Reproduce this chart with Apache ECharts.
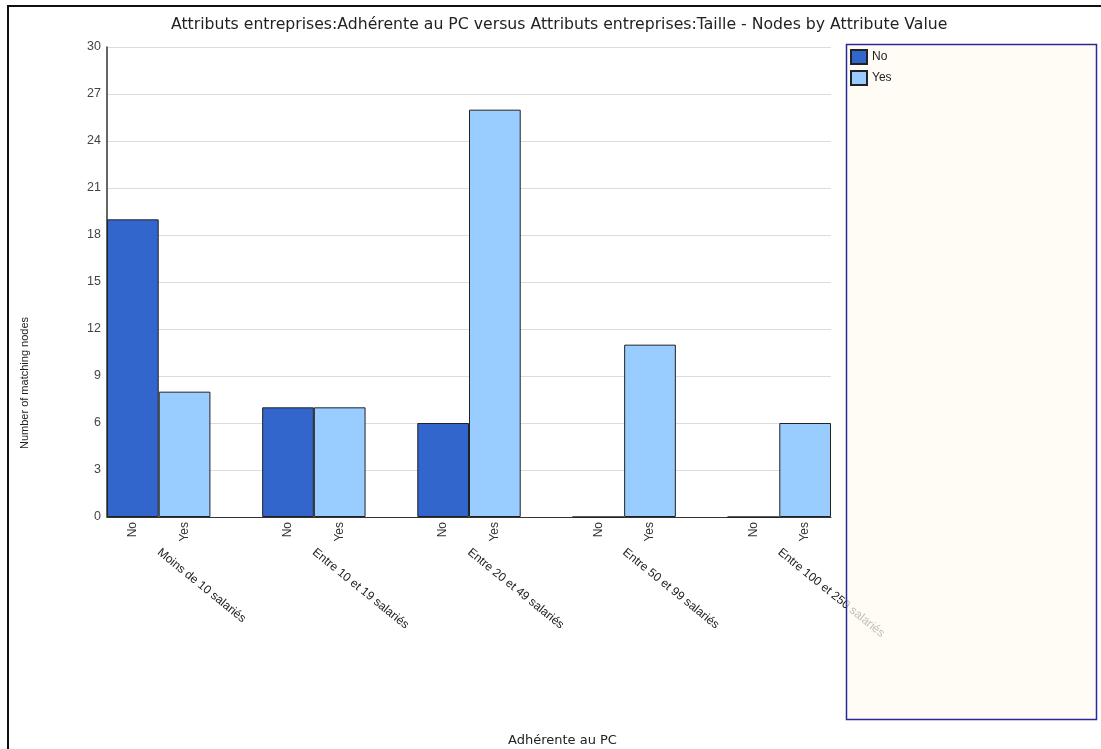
<!DOCTYPE html>
<html>
<head>
<meta charset="utf-8">
<script src="https://cdn.jsdelivr.net/npm/echarts@6/dist/echarts.min.js"></script>
<style>
html,body{margin:0;padding:0;background:#fff;}
#chart{width:1101px;height:749px;}
</style>
</head>
<body>
<div id="chart"></div>
<script>
var groups = ['Moins de 10 salariés','Entre 10 et 19 salariés','Entre 20 et 49 salariés','Entre 50 et 99 salariés','Entre 100 et 250 salariés'];
var answers = ['No','Yes'];
var noValues = [19, 7, 6, 0, 0];
var yesValues = [8, 7, 26, 11, 6];
var yTicks = [0,3,6,9,12,15,18,21,24,27,30];

var FONT = 'Liberation Sans, Arial, sans-serif';
var WIDE = 'DejaVu Sans, Verdana, sans-serif';

// build slot categories: No, Yes, (gap) per group, no gap after last
var slots = [], noData = [], yesData = [], groupCenters = [];
groups.forEach(function(g, i){
  slots.push(answers[0]); noData.push(noValues[i]); yesData.push('-');
  slots.push(answers[1]); noData.push('-'); yesData.push(yesValues[i]);
  groupCenters.push(slots.length - 1);
  if (i < groups.length - 1) { slots.push(''); noData.push('-'); yesData.push('-'); }
});

var chart = echarts.init(document.getElementById('chart'));
chart.setOption({
  animation: false,
  backgroundColor: '#fff',
  title: [{
    text: 'Attributs entreprises:Adhérente au PC versus Attributs entreprises:Taille - Nodes by Attribute Value',
    left: 166, top: 12,
    textStyle: {fontFamily: WIDE, fontSize: 15.7, fontWeight: 'normal', color: '#222'}
  },{
    text: 'Adhérente au PC',
    left: 503, top: 729,
    textStyle: {fontFamily: WIDE, fontSize: 13, fontWeight: 'normal', color: '#222'}
  }],
  graphic: [{
    type: 'rect', z: 0,
    shape: {x: 8, y: 6, width: 1110, height: 760},
    style: {fill: 'none', stroke: '#111', lineWidth: 2}
  },{
    type: 'rect', z: 100,
    shape: {x: 846.5, y: 44.5, width: 250, height: 675},
    style: {fill: 'rgba(255,251,243,0.72)', stroke: '#2a2a96', lineWidth: 1.5}
  }],
  legend: {
    z: 110,
    orient: 'vertical',
    left: 850, top: 49,
    padding: 0,
    icon: 'rect',
    itemWidth: 16, itemHeight: 14, itemGap: 5,
    textStyle: {fontFamily: FONT, fontSize: 12, color: '#222', padding: [1,0,0,0]},
    data: answers
  },
  grid: {left: 107, right: 270, top: 47, bottom: 232, containLabel: false},
  xAxis: [{
    type: 'category',
    data: slots,
    boundaryGap: true,
    axisLine: {show: true, lineStyle: {color: '#333', width: 1}},
    axisTick: {show: false},
    axisLabel: {interval: 0, rotate: 90, margin: 5, fontFamily: FONT, fontSize: 12, color: '#333'}
  },{
    type: 'value',
    position: 'bottom',
    offset: 30,
    min: 0, max: slots.length,
    axisLine: {show: false},
    axisTick: {show: false},
    splitLine: {show: false},
    axisLabel: {
      customValues: groupCenters,
      rotate: -39, margin: 4,
      fontFamily: FONT, fontSize: 12, color: '#222',
      formatter: function(v){ var i = groupCenters.indexOf(v); return i >= 0 ? groups[i] : ''; }
    }
  }],
  yAxis: {
    type: 'value',
    min: 0, max: 30, interval: 3,
    name: 'Number of matching nodes',
    nameLocation: 'middle', nameRotate: 90, nameGap: 77,
    nameTextStyle: {fontFamily: FONT, fontSize: 11, color: '#222', padding: [0, 202, 0, 0]},
    axisLine: {show: true, lineStyle: {color: '#333', width: 1.5}},
    axisTick: {show: false},
    axisLabel: {margin: 6, fontFamily: FONT, fontSize: 12.5, color: '#444',
      customValues: yTicks},
    splitLine: {show: true, lineStyle: {color: '#dcdcdc', width: 1}}
  },
  series: [{
    name: answers[0], type: 'bar', data: noData,
    barWidth: '100%', barGap: '-100%',
    itemStyle: {color: '#3366cc', borderColor: '#222', borderWidth: 1}
  },{
    name: answers[1], type: 'bar', data: yesData,
    barWidth: '100%', barGap: '-100%',
    itemStyle: {color: '#99ccff', borderColor: '#222', borderWidth: 1}
  }]
});
</script>
</body>
</html>
